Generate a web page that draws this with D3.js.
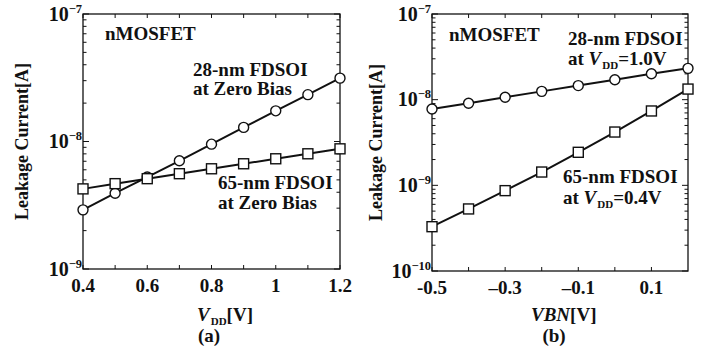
<!DOCTYPE html>
<html>
<head>
<meta charset="utf-8">
<script src="https://cdn.jsdelivr.net/npm/d3@7"></script>
<style>
  html, body { margin: 0; padding: 0; background: #fff; }
  svg { display: block; }
  text { font-family: "Liberation Serif", "Times New Roman", serif; font-weight: bold; fill: #111; }
</style>
</head>
<body>
<svg id="chart" width="708" height="353"></svg>
<script>
// ---------- Data ----------
// Panel (a): leakage current vs VDD at zero bias
const vddA = [0.4, 0.5, 0.6, 0.7, 0.8, 0.9, 1.0, 1.1, 1.2];
const leak28A = [2.91e-9, 3.93e-9, 5.26e-9, 7.06e-9, 9.53e-9, 1.29e-8, 1.74e-8, 2.33e-8, 3.14e-8];
const leak65A = [4.25e-9, 4.67e-9, 5.11e-9, 5.59e-9, 6.11e-9, 6.69e-9, 7.32e-9, 8.01e-9, 8.76e-9];
const xTicksA = [0.4, 0.6, 0.8, 1.0, 1.2];
const xTickLabelsA = ["0.4", "0.6", "0.8", "1", "1.2"];
const xMinorA = [0.5, 0.7, 0.9, 1.1];
const yDecadesA = [-9, -8, -7];

// Panel (b): leakage current vs body bias VBN
const vbnB = [-0.5, -0.4, -0.3, -0.2, -0.1, 0.0, 0.1, 0.2];
const leak28B = [7.78e-9, 9.07e-9, 1.065e-8, 1.25e-8, 1.46e-8, 1.71e-8, 2.01e-8, 2.32e-8];
const leak65B = [3.29e-10, 5.30e-10, 8.67e-10, 1.43e-9, 2.43e-9, 4.19e-9, 7.38e-9, 1.33e-8];
const xTicksB = [-0.5, -0.3, -0.1, 0.1];
const xTickLabelsB = ["-0.5", "\u20130.3", "\u20130.1", "0.1"];
const xMinorB = [-0.4, -0.2, 0.0];
const yDecadesB = [-10, -9, -8, -7];

// ---------- Drawing ----------
const svg = d3.select("#chart");

function drawPanel(cfg) {
  const g = svg.append("g");
  const x = d3.scaleLinear().domain(cfg.xDomain).range([cfg.left, cfg.right]);
  const y = d3.scaleLog().domain(cfg.yDomain).range([cfg.bottom, cfg.top]);

  // frame
  g.append("rect")
    .attr("x", cfg.left).attr("y", cfg.top)
    .attr("width", cfg.right - cfg.left).attr("height", cfg.bottom - cfg.top)
    .attr("fill", "none").attr("stroke", "#111").attr("stroke-width", 1.3);

  // x ticks (inward, bottom and top)
  const allX = cfg.xTicks.concat(cfg.xMinor);
  allX.forEach(v => {
    const px = x(v);
    g.append("line").attr("x1", px).attr("x2", px).attr("y1", cfg.bottom).attr("y2", cfg.bottom - 4)
      .attr("stroke", "#111").attr("stroke-width", 1);
    g.append("line").attr("x1", px).attr("x2", px).attr("y1", cfg.top).attr("y2", cfg.top + 4)
      .attr("stroke", "#111").attr("stroke-width", 1);
  });
  cfg.xTicks.forEach((v, i) => {
    g.append("text").attr("x", x(v)).attr("y", cfg.bottom + 23)
      .attr("text-anchor", "middle").attr("font-size", 19)
      .text(cfg.xTickLabels[i]);
  });

  // y ticks: minor log ticks inward on left and right
  const decs = cfg.yDecades;
  for (let k = 0; k < decs.length; k++) {
    const d = decs[k];
    const base = Math.pow(10, d);
    [cfg.left, cfg.right].forEach((ax, j) => {
      const dir = j === 0 ? 1 : -1;
      g.append("line").attr("x1", ax).attr("x2", ax + dir * 6)
        .attr("y1", y(base)).attr("y2", y(base)).attr("stroke", "#111").attr("stroke-width", 1);
    });
    if (k < decs.length - 1) {
      for (let m = 2; m <= 9; m++) {
        const v = m * base;
        [cfg.left, cfg.right].forEach((ax, j) => {
          const dir = j === 0 ? 1 : -1;
          g.append("line").attr("x1", ax).attr("x2", ax + dir * 3.5)
            .attr("y1", y(v)).attr("y2", y(v)).attr("stroke", "#111").attr("stroke-width", 1);
        });
      }
    }
    const t = g.append("text").attr("x", cfg.left - 1).attr("y", y(base) + 6.5)
      .attr("text-anchor", "end").attr("font-size", 20);
    t.append("tspan").text("10");
    t.append("tspan").attr("dy", -8).attr("font-size", 12.5).text("\u2212" + Math.abs(d));
  }

  // y axis label
  g.append("text")
    .attr("transform", `translate(${cfg.yLabelX},${(cfg.top + cfg.bottom) / 2}) rotate(-90)`)
    .attr("text-anchor", "middle").attr("font-size", 18)
    .text("Leakage Current[A]");

  // series lines
  const line = d3.line().x(d => x(d[0])).y(d => y(d[1]));
  cfg.series.forEach(s => {
    const pts = cfg.xs.map((xv, i) => [xv, s.values[i]]);
    g.append("path").attr("d", line(pts)).attr("fill", "none")
      .attr("stroke", "#111").attr("stroke-width", 2);
    if (s.marker === "circle") {
      g.selectAll(null).data(pts).enter().append("circle")
        .attr("cx", d => x(d[0])).attr("cy", d => y(d[1])).attr("r", 5)
        .attr("fill", "#fff").attr("stroke", "#111").attr("stroke-width", 1.4);
    } else {
      g.selectAll(null).data(pts).enter().append("rect")
        .attr("x", d => x(d[0]) - 5).attr("y", d => y(d[1]) - 5)
        .attr("width", 10).attr("height", 10)
        .attr("fill", "#fff").attr("stroke", "#111").attr("stroke-width", 1.4);
    }
  });
  return g;
}

const gA = drawPanel({
  left: 83, right: 340, top: 14, bottom: 269, yLabelX: 28,
  xDomain: [0.4, 1.2], yDomain: [1e-9, 1e-7],
  xTicks: xTicksA, xTickLabels: xTickLabelsA, xMinor: xMinorA, yDecades: yDecadesA,
  xs: vddA,
  series: [{ values: leak28A, marker: "circle" }, { values: leak65A, marker: "square" }]
});

const gB = drawPanel({
  left: 432, right: 688, top: 14, bottom: 271, yLabelX: 382,
  xDomain: [-0.5, 0.2], yDomain: [1e-10, 1e-7],
  xTicks: xTicksB, xTickLabels: xTickLabelsB, xMinor: xMinorB, yDecades: yDecadesB,
  xs: vbnB,
  series: [{ values: leak28B, marker: "circle" }, { values: leak65B, marker: "square" }]
});

// ---------- Annotations ----------
function label(g, x, y, txt) {
  g.append("text").attr("x", x).attr("y", y).attr("font-size", 19).text(txt);
}
function vddLabel(g, x, y, prefix, suffix, size) {
  const t = g.append("text").attr("x", x).attr("y", y).attr("font-size", size || 19);
  if (prefix) t.append("tspan").text(prefix);
  t.append("tspan").attr("font-style", "italic").text("V");
  t.append("tspan").attr("font-size", 11).attr("dy", 4).attr("dx", 1).text("DD");
  t.append("tspan").attr("dy", -4).text(suffix);
}

label(gA, 105, 40, "nMOSFET");
label(gA, 193, 75.5, "28-nm FDSOI");
label(gA, 193, 94.5, "at Zero Bias");
label(gA, 218, 189, "65-nm FDSOI");
label(gA, 218, 209, "at Zero Bias");
vddLabel(gA, 197, 321, "", "[V]", 19);
gA.append("text").attr("x", 209).attr("y", 342).attr("text-anchor", "middle").attr("font-size", 19).text("(a)");

label(gB, 449, 41, "nMOSFET");
label(gB, 568, 45, "28-nm FDSOI");
vddLabel(gB, 568, 65, "at ", "=1.0V");
label(gB, 563, 183, "65-nm FDSOI");
vddLabel(gB, 563, 204, "at ", "=0.4V");
const xb = gB.append("text").attr("x", 531).attr("y", 321).attr("font-size", 19);
xb.append("tspan").attr("font-style", "italic").text("VBN");
xb.append("tspan").text("[V]");
gB.append("text").attr("x", 554).attr("y", 342).attr("text-anchor", "middle").attr("font-size", 19).text("(b)");
</script>
</body>
</html>
